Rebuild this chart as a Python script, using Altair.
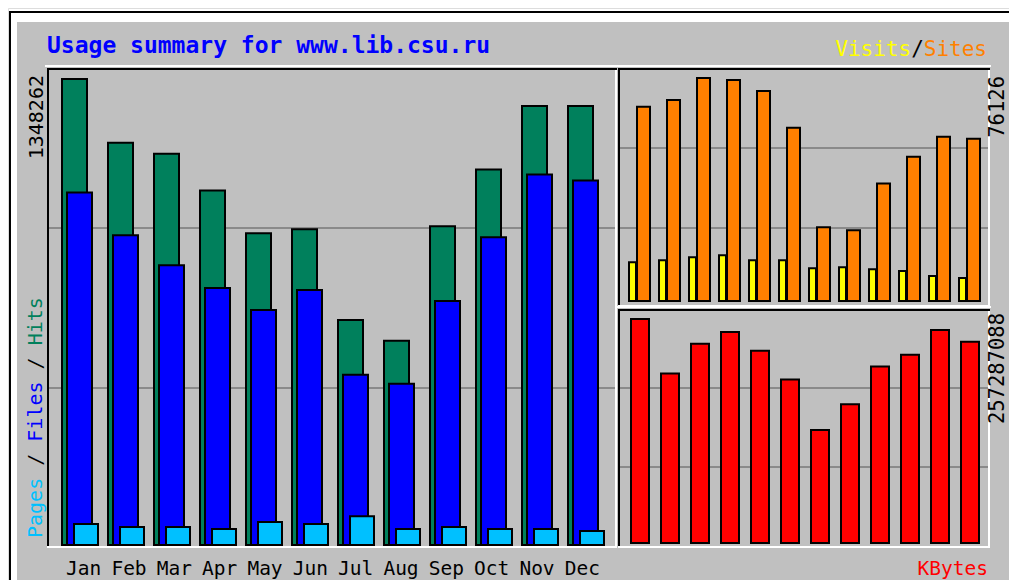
import altair as alt
import pandas as pd

# ---------------- data ----------------
months = ["Jan", "Feb", "Mar", "Apr", "May", "Jun", "Jul", "Aug", "Sep", "Oct", "Nov", "Dec"]
hits = [1348262, 1163900, 1132200, 1025600, 901700, 913300, 651100, 590600, 921900, 1086100, 1270500, 1270500]
files = [1019900, 896000, 809600, 743300, 679900, 737500, 492600, 466700, 705800, 890200, 1071700, 1054400]
pages = [60500, 51900, 51900, 46100, 66300, 60500, 83500, 46100, 51900, 46100, 46100, 40300]
visits = [13250, 13930, 14950, 15630, 13930, 13930, 11220, 11550, 10880, 10200, 8500, 7820]
sites = [66270, 68650, 76126, 75450, 71710, 59130, 25150, 24130, 40100, 49280, 56080, 55400]
kbytes = [257287088, 194670000, 228820000, 242490000, 220860000, 187840000,
          129780000, 159380000, 202640000, 216300000, 244760000, 231100000]

title_text = "Usage summary for www.lib.csu.ru"

df = pd.DataFrame({"month": months, "hits": hits, "files": files, "pages": pages,
                   "visits": visits, "sites": sites, "kbytes": kbytes})

# ---------------- layout helpers ----------------
O = 8  # page margin
W, H = 1001, 572
MONO = "DejaVu Sans Mono"
one = alt.Data(values=[{"a": 1}])

GRAY = "#C0C0C0"
C_HITS, C_FILES, C_PAGES = "#00805C", "#0000FF", "#00C0FF"
C_VISITS, C_SITES, C_KB = "#FFFF00", "#FF8000", "#FF0000"
GRID = "#8A8A8A"


def X(v):
    return min(max(v - O, 0), W)


def Y(v):
    return min(max(v - O, 0), H)


def rect(x1, y1, x2, y2, color):
    return alt.Chart(one).mark_rect(color=color).encode(
        x=alt.value(X(x1)), x2=alt.value(X(x2)), y=alt.value(Y(y1)), y2=alt.value(Y(y2)))


def txt(s, x, y, color, size, align="left", angle=0, bold=False, baseline="middle"):
    return alt.Chart(one).mark_text(
        text=s, align=align, baseline=baseline, angle=angle, fontSize=size, font=MONO,
        fontWeight="bold" if bold else "normal", color=color
    ).encode(x=alt.value(X(x)), y=alt.value(Y(y)))


layers = []

# ---------------- background frame ----------------
layers += [
    rect(17, 22, 1100, 700, GRAY),
    rect(9, 11, 11, 700, "black"),
    rect(9, 11, 1100, 13, "black"),
]


def panel(x1, y1, x2, y2, grid_ys):
    out = [
        rect(x1 - 2, y1 - 3, x2 + 1, y1 - 1, "white"),   # outer highlight
        rect(x1, y1, x2, y1 + 2, "black"),               # top
        rect(x1, y1, x1 + 2, y2, "black"),               # left
        rect(x1, y2 - 2, x2, y2, "white"),               # bottom
        rect(x2 - 2, y1 + 2, x2, y2, "white"),           # right
    ]
    for gy in grid_ys:
        out.append(rect(x1 + 2, gy - 1, x2 - 2, gy + 1, GRID))
    return out


layers += panel(47, 68, 617, 548, [228, 388])
layers += panel(618, 68, 990, 307, [148, 228])
layers += panel(618, 309, 990, 548, [388, 467])

# ---------------- main panel: hits / files / pages ----------------
xmain = alt.Scale(domain=months, range=[X(61), X(605)], paddingInner=8 / 46, paddingOuter=0)
ymain = alt.Scale(domain=[0, max(hits)], range=[Y(545), Y(79)], nice=False, zero=True)

base = alt.Chart(df)
for field, color, width, off in [("hits", C_HITS, 25, -5.5),
                                 ("files", C_FILES, 25, -0.5),
                                 ("pages", C_PAGES, 24, 6)]:
    layers.append(base.mark_bar(width=width, xOffset=off, color=color, stroke="black",
                                strokeWidth=2).encode(
        x=alt.X("month:N", scale=xmain, axis=None, sort=months),
        y=alt.Y(f"{field}:Q", scale=ymain, axis=None)))

layers.append(base.mark_text(fontSize=19.5, font=MONO, color="black", baseline="alphabetic").encode(
    x=alt.X("month:N", scale=xmain, axis=None, sort=months),
    y=alt.value(Y(575)), text="month:N"))

# ---------------- upper right: visits / sites ----------------
xup = alt.Scale(domain=months, range=[X(628), X(981)], paddingInner=7 / 30, paddingOuter=0)
yup = alt.Scale(domain=[0, max(sites)], range=[Y(301), Y(78)], nice=False, zero=True)
for field, color, width, off in [("visits", C_VISITS, 7, -7), ("sites", C_SITES, 13, 4)]:
    layers.append(base.mark_bar(width=width, xOffset=off, color=color, stroke="black",
                                strokeWidth=2).encode(
        x=alt.X("month:N", scale=xup, axis=None, sort=months),
        y=alt.Y(f"{field}:Q", scale=yup, axis=None)))

# ---------------- lower right: kbytes ----------------
xlo = alt.Scale(domain=months, range=[X(630), X(980)], paddingInner=10 / 30, paddingOuter=0)
ylo = alt.Scale(domain=[0, max(kbytes)], range=[Y(543), Y(319)], nice=False, zero=True)
layers.append(base.mark_bar(width=18, color=C_KB, stroke="black", strokeWidth=2).encode(
    x=alt.X("month:N", scale=xlo, axis=None, sort=months),
    y=alt.Y("kbytes:Q", scale=ylo, axis=None)))

# ---------------- texts ----------------
layers.append(txt(title_text, 47, 46, "#0000FF", 23, bold=True))

cw = 0.602 * 21
x0 = 987 - 12 * cw
layers += [
    txt("Visits", x0, 50, C_VISITS, 21),
    txt("/", x0 + 6 * cw, 50, "black", 21),
    txt("Sites", x0 + 7 * cw, 50, C_SITES, 21),
]

cw2 = 0.602 * 20
ly = 538
layers += [
    txt("Pages", 36, ly, C_PAGES, 20, angle=270),
    txt("/", 36, ly - 6 * cw2, "black", 20, angle=270),
    txt("Files", 36, ly - 8 * cw2, C_FILES, 20, angle=270),
    txt("/", 36, ly - 14 * cw2, "black", 20, angle=270),
    txt("Hits", 36, ly - 16 * cw2, C_HITS, 20, angle=270),
    txt(str(max(hits)), 37, 75, "black", 20, align="right", angle=270),
    txt(str(max(sites)), 998, 76, "black", 20.5, align="right", angle=270),
    txt(str(max(kbytes)), 998, 313, "black", 20.5, align="right", angle=270),
    txt("KBytes", 988, 575, C_KB, 19.5, align="right", baseline="alphabetic"),
]

chart = alt.layer(*layers).resolve_scale(x="independent", y="independent").properties(
    width=W, height=H, autosize=alt.AutoSizeParams(type="none"), padding=0
).configure_view(stroke=None).configure(background="white")

chart.save("out.html", embed_options={"renderer": "svg", "actions": False})
